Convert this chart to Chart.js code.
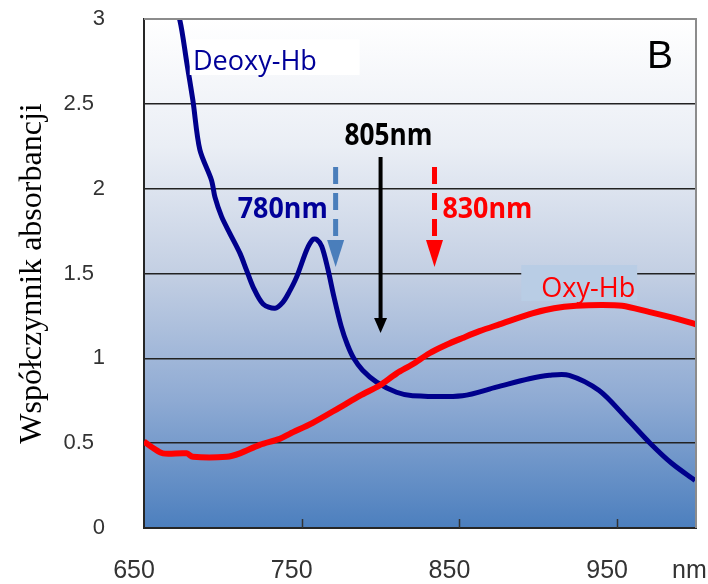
<!DOCTYPE html>
<html><head><meta charset="utf-8">
<script src="https://cdn.jsdelivr.net/npm/chart.js@4.4.0/dist/chart.umd.min.js"></script>
<style>html,body{margin:0;padding:0;background:#fff;}#wrap{width:708px;height:584px;}</style>
</head><body><div id="wrap"><canvas id="c" width="708" height="584"></canvas></div>
<script>
// ---- data ----
const deoxyWavelength = [668, 672.8, 677, 681, 685.4, 692.8, 695, 699.2, 704.4, 710.8, 715, 719.2, 725.5, 733, 738, 742, 746.8, 753.2, 757, 759.5, 762.7, 766.5, 770.5, 775, 779, 783, 788.6, 797.5, 810.1, 820.3, 851.9, 873.4, 894.3, 907, 919.6, 938.6, 955.7, 970.9, 984.8, 999.4];
const deoxyAbsorbance = [3.12, 2.99, 2.75, 2.52, 2.23, 2.05, 1.95, 1.835, 1.737, 1.62, 1.52, 1.42, 1.32, 1.295, 1.33, 1.39, 1.48, 1.64, 1.70, 1.70, 1.66, 1.53, 1.36, 1.19, 1.08, 1.00, 0.93, 0.86, 0.80, 0.78, 0.78, 0.83, 0.88, 0.90, 0.90, 0.81, 0.65, 0.50, 0.38, 0.28];
const oxyWavelength = [650, 656, 662, 677, 681, 702.5, 710.8, 723.4, 736, 742.4, 757, 774, 787, 799.4, 810, 820.3, 831, 841.8, 852, 862.7, 875.3, 896.2, 910, 924, 940, 953.2, 969.6, 985, 1000];
const oxyAbsorbance = [0.51, 0.47, 0.44, 0.44, 0.42, 0.42, 0.44, 0.49, 0.525, 0.555, 0.62, 0.71, 0.78, 0.84, 0.91, 0.965, 1.03, 1.08, 1.12, 1.16, 1.20, 1.265, 1.295, 1.31, 1.315, 1.31, 1.275, 1.24, 1.20];
const xTickValues = [650, 750, 850, 950];
const yTickValues = [0, 0.5, 1, 1.5, 2, 2.5, 3];
const seriesNames = ['Deoxy-Hb', 'Oxy-Hb'];
const markerLabels = ['780nm', '805nm', '830nm'];
const markerWavelengths = [771.5, 800, 834.2];
const yAxisTitle = 'Współczynnik absorbancji';
const xUnitLabel = 'nm';
const panelLetter = 'B';

// ---- annotation placement (data units) ----
const annotations = {
  deoxyBox: {x0: 679, x1: 786.7, y0: 2.88, y1: 2.67, fill: '#ffffff'},
  oxyBox: {x0: 889.2, x1: 962.7, y0: 1.55, y1: 1.338, fill: '#b9cde5'},
  deoxyText: {x: 681, y: 2.70, font: "28px 'Open Sans'", color: '#000099', align: 'left', w: 124},
  oxyText: {x: 901.9, y: 1.363, font: "28px 'Open Sans'", color: '#ff0000', align: 'left', w: 94},
  letter: {x: 969, y: 2.711, font: "39px 'Liberation Sans'", color: '#000000', align: 'left'},
  m780Text: {x: 766.5, y: 1.827, font: "bold 28px 'Open Sans'", color: '#000099', align: 'right', w: 90},
  m805Text: {x: 805, y: 2.257, font: "bold 30px 'Open Sans'", color: '#000000', align: 'center', w: 88},
  m830Text: {x: 839.2, y: 1.827, font: "bold 28px 'Open Sans'", color: '#ff0000', align: 'left', w: 90},
  arrows: [
    {top: 2.128, base: 1.697, tip: 1.538, color: '#4a7ebb', width: 5, dash: [17, 9], headW: 17},
    {top: 2.187, base: 1.238, tip: 1.149, color: '#000000', width: 4, dash: [], headW: 13},
    {top: 2.128, base: 1.697, tip: 1.538, color: '#ff0000', width: 5, dash: [17, 9], headW: 17}
  ],
  unit: {x: 672, baselinePx: 578, font: "25px 'Liberation Sans'", color: '#333333'}
};

function drawText(ctx, str, px, py, a) {
  ctx.save();
  ctx.font = a.font;
  ctx.fillStyle = a.color;
  ctx.textBaseline = 'alphabetic';
  ctx.textAlign = 'left';
  const w = ctx.measureText(str).width;
  const sx = a.w ? a.w / w : 1;
  let left = px;
  if (a.align === 'right') left = px - w * sx;
  else if (a.align === 'center') left = px - w * sx / 2;
  ctx.translate(left, py);
  ctx.scale(sx, 1);
  ctx.fillText(str, 0, 0);
  ctx.restore();
}

const bgPlugin = {
  id: 'bg',
  beforeDraw(chart) {
    const {ctx, chartArea: a} = chart;
    const g = ctx.createLinearGradient(0, a.top, 0, a.bottom);
    g.addColorStop(0, '#ffffff');
    g.addColorStop(0.25, '#eaeef5');
    g.addColorStop(0.5, '#c3cfe3');
    g.addColorStop(0.75, '#8eaad3');
    g.addColorStop(1, '#4c7fbe');
    ctx.save();
    ctx.fillStyle = g;
    ctx.fillRect(a.left, a.top, a.right - a.left, a.bottom - a.top);
    ctx.restore();
  },
  afterDatasetsDraw(chart) {
    const {ctx, chartArea: a, scales: {x, y}} = chart;
    ctx.save();
    // inner ticks
    ctx.strokeStyle = '#333';
    ctx.lineWidth = 1.5;
    xTickValues.slice(1).forEach(v => {
      const px = Math.round(x.getPixelForValue(v)) + 0.5;
      ctx.beginPath(); ctx.moveTo(px, a.bottom); ctx.lineTo(px, a.bottom - 9); ctx.stroke();
    });
    // top & right border
    ctx.strokeStyle = '#8c8c8c';
    ctx.lineWidth = 2;
    ctx.beginPath();
    ctx.moveTo(a.left, a.top); ctx.lineTo(a.right, a.top); ctx.lineTo(a.right, a.bottom);
    ctx.stroke();

    // label boxes
    [annotations.deoxyBox, annotations.oxyBox].forEach(b => {
      const x0 = x.getPixelForValue(b.x0), x1 = x.getPixelForValue(b.x1);
      const y0 = y.getPixelForValue(b.y0), y1 = y.getPixelForValue(b.y1);
      ctx.fillStyle = b.fill;
      ctx.fillRect(x0, y0, x1 - x0, y1 - y0);
    });
    const T = (str, a2) => drawText(ctx, str, x.getPixelForValue(a2.x), y.getPixelForValue(a2.y), a2);
    T(seriesNames[0], annotations.deoxyText);
    T(seriesNames[1], annotations.oxyText);
    T(panelLetter, annotations.letter);
    T(markerLabels[0], annotations.m780Text);
    T(markerLabels[1], annotations.m805Text);
    T(markerLabels[2], annotations.m830Text);

    // arrows
    annotations.arrows.forEach((ar, i) => {
      const px = x.getPixelForValue(markerWavelengths[i]);
      const yt = y.getPixelForValue(ar.top), yb = y.getPixelForValue(ar.base), yp = y.getPixelForValue(ar.tip);
      ctx.strokeStyle = ar.color;
      ctx.fillStyle = ar.color;
      ctx.lineWidth = ar.width;
      ctx.setLineDash(ar.dash);
      ctx.beginPath(); ctx.moveTo(px, yt); ctx.lineTo(px, yb + 1); ctx.stroke();
      ctx.setLineDash([]);
      ctx.beginPath();
      ctx.moveTo(px - ar.headW / 2, yb); ctx.lineTo(px + ar.headW / 2, yb); ctx.lineTo(px, yp); ctx.closePath();
      ctx.fill();
    });

    // unit label
    ctx.font = annotations.unit.font;
    ctx.fillStyle = annotations.unit.color;
    ctx.textBaseline = 'alphabetic';
    ctx.textAlign = 'left';
    ctx.fillText(xUnitLabel, annotations.unit.x, annotations.unit.baselinePx);
    ctx.restore();
  }
};

const toPoints = (xs, ys) => xs.map((v, i) => ({x: v, y: ys[i]}));

new Chart(document.getElementById('c'), {
  type: 'line',
  data: {
    datasets: [
      {label: seriesNames[1], data: toPoints(oxyWavelength, oxyAbsorbance), borderColor: '#ff0000', borderWidth: 6, pointRadius: 0, tension: 0.3, fill: false},
      {label: seriesNames[0], data: toPoints(deoxyWavelength, deoxyAbsorbance), borderColor: '#00008c', borderWidth: 5, pointRadius: 0, tension: 0.3, fill: false}
    ]
  },
  options: {
    responsive: false,
    animation: false,
    devicePixelRatio: 1,
    layout: {padding: {top: 19, right: 12, bottom: 0, left: 0}},
    plugins: {legend: {display: false}, tooltip: {enabled: false}},
    scales: {
      x: {
        type: 'linear', min: 650, max: 1000,
        afterBuildTicks: s => { s.ticks = xTickValues.map(v => ({value: v})); },
        afterFit: s => { s.height = 56; s.paddingLeft = 0; s.paddingRight = 0; },
        grid: {display: false},
        border: {display: true, color: '#262626', width: 2},
        ticks: {font: {family: 'Liberation Sans', size: 25}, color: '#333333', padding: 20, labelOffset: -10, maxRotation: 0}
      },
      y: {
        type: 'linear', min: 0, max: 3,
        afterBuildTicks: s => { s.ticks = yTickValues.map(v => ({value: v})); },
        afterFit: s => { s.width = 144; s.paddingTop = 0; s.paddingBottom = 0; },
        grid: {
          drawTicks: false,
          lineWidth: 1.6,
          color: c => (c.tick && (c.tick.value === 0 || c.tick.value === 3)) ? 'rgba(0,0,0,0)' : '#222222'
        },
        border: {display: true, color: '#262626', width: 2},
        ticks: {
          font: {family: 'Liberation Sans', size: 22}, color: '#333333', padding: 39,
          callback: v => Number.isInteger(v) ? String(v) : String(v) + '\u2002'
        },
        title: {display: true, text: yAxisTitle, font: {family: 'Liberation Serif', size: 32}, color: '#000000', padding: {top: 13, bottom: 0}}
      }
    }
  },
  plugins: [bgPlugin]
});
</script>
</body></html>
